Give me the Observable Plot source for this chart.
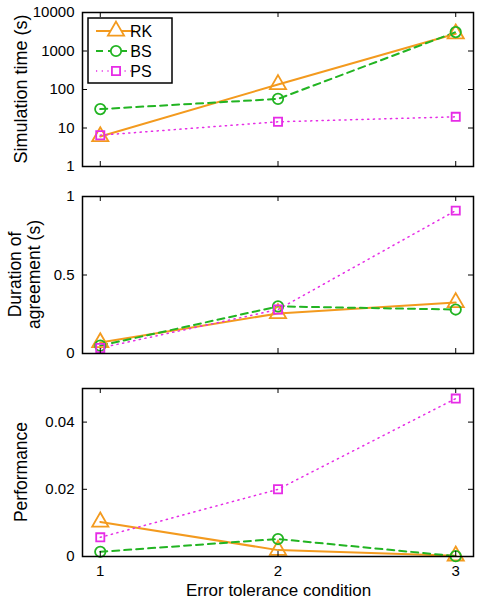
<!DOCTYPE html>
<html><head><meta charset="utf-8">
<script src="https://cdn.jsdelivr.net/npm/d3@7"></script>
<script src="https://cdn.jsdelivr.net/npm/@observablehq/plot@0.6"></script>
<style>
body{margin:0;background:#fff;}
#c{width:478px;}
#c svg{display:block;}
</style></head>
<body><div id="c"></div>
<script>
const conditions = [1, 2, 3];
const series = ["RK", "BS", "PS"];
const simTime = { RK: [6, 135, 2800], BS: [31, 57, 3100], PS: [6.5, 14.5, 19.5] };
const duration = { RK: [0.07, 0.255, 0.325], BS: [0.05, 0.30, 0.28], PS: [0.035, 0.28, 0.91] };
const performance = { RK: [0.0103, 0.0019, 0.0002], BS: [0.0014, 0.0052, 0.0001], PS: [0.0057, 0.0200, 0.0470] };
const colors = { RK: "#F39A1E", BS: "#22B422", PS: "#E62CE6" };
const dashes = { RK: null, BS: "7,5", PS: "1.2,4.5" };
const widths = { RK: 2, BS: 2, PS: 1.5 };
const symbols = { RK: "triangle", BS: "circle", PS: "square" };
const sizes = { RK: 6, BS: 5.2, PS: 4.6 };

const W = 478, ML = 82, MR = 5;
const FW = W - ML - MR;
const font = "'Liberation Sans', Arial, Helvetica, sans-serif";

function rows(obj) {
  const out = [];
  for (const s of series) conditions.forEach((c, i) => out.push({ s, x: c, y: obj[s][i] }));
  return out;
}

function panel({ data, yOpts, yTicks, yTickFmt, height, mt, mb, label, labelSize, xLabels }) {
  const FH = height - mt - mb;
  const marks = [];
  for (const s of series) {
    const d = data.filter(r => r.s === s);
    marks.push(Plot.line(d, { x: "x", y: "y", stroke: colors[s], strokeWidth: widths[s], strokeDasharray: dashes[s] }));
  }
  for (const s of series) {
    const d = data.filter(r => r.s === s);
    marks.push(Plot.dot(d, { x: "x", y: "y", stroke: colors[s], fill: "none", strokeWidth: 1.8, symbol: symbols[s], r: sizes[s] }));
  }
  marks.push(
    Plot.tickY(yTicks, { y: d => d, insetRight: FW - 5, stroke: "black", strokeWidth: 1 }),
    Plot.tickY(yTicks, { y: d => d, insetLeft: FW - 5, stroke: "black", strokeWidth: 1 }),
    Plot.tickX(conditions, { x: d => d, insetBottom: FH - 5, stroke: "black", strokeWidth: 1 }),
    Plot.tickX(conditions, { x: d => d, insetTop: FH - 5, stroke: "black", strokeWidth: 1 }),
    Plot.axisY(yTicks, { tickSize: 0, tickPadding: 8, tickFormat: yTickFmt, fontSize: 15, label: null }),
    Plot.frame({ stroke: "black", strokeWidth: 1.5 })
  );
  if (xLabels) marks.push(Plot.axisX(conditions, { tickSize: 0, tickPadding: 9, tickFormat: d => String(d), fontSize: 15, label: null }));
  const p = Plot.plot({
    width: W, height, marginLeft: ML, marginRight: MR, marginTop: mt, marginBottom: mb,
    style: { fontFamily: font, fontSize: "15px", color: "black", background: "white", overflow: "visible" },
    x: xLabels ? { domain: [0.9, 3.1], label: null } : { domain: [0.9, 3.1], axis: null },
    y: { ...yOpts, label: null },
    marks
  });
  const svg = d3.select(p);
  const cy = mt + FH / 2;
  const lines = Array.isArray(label) ? label : [label];
  const x0 = lines.length === 1 ? 21 : 15;
  lines.forEach((t, i) => {
    svg.append("text").attr("transform", `translate(${x0 + i * 19},${cy}) rotate(-90)`)
      .attr("text-anchor", "middle").attr("dy", "0.35em").attr("font-size", labelSize).attr("font-family", font).text(t);
  });
  return p;
}

const c = document.getElementById("c");
const p1 = panel({
  data: rows(simTime), yOpts: { type: "log", domain: [1, 10000] },
  yTicks: [1, 10, 100, 1000, 10000], yTickFmt: d => String(d),
  height: 180, mt: 12, mb: 14, label: "Simulation time (s)", labelSize: 18
});
c.appendChild(p1);
const p2 = panel({
  data: rows(duration), yOpts: { domain: [0, 1] },
  yTicks: [0, 0.5, 1], yTickFmt: d => String(d),
  height: 190, mt: 16, mb: 17, label: ["Duration of", "agreement (s)"], labelSize: 17.5
});
c.appendChild(p2);
const p3 = panel({
  data: rows(performance), yOpts: { domain: [0, 0.05] },
  yTicks: [0, 0.02, 0.04], yTickFmt: d => String(d),
  height: 232, mt: 18, mb: 46, label: "Performance", labelSize: 17.5, xLabels: true
});
c.appendChild(p3);
d3.select(p3).append("text").attr("x", ML + FW / 2 + 1).attr("y", 226).attr("text-anchor", "middle")
  .attr("font-size", 17).attr("font-family", font).text("Error tolerance condition");

// legend on first panel
const s1 = d3.select(p1);
const lg = s1.append("g");
lg.append("rect").attr("x", 88).attr("y", 18).attr("width", 84).attr("height", 65)
  .attr("fill", "white").attr("stroke", "black").attr("stroke-width", 1.5);
const sym = { triangle: d3.symbolTriangle, circle: d3.symbolCircle, square: d3.symbolSquare };
series.forEach((s, i) => {
  const y = 31 + i * 20;
  lg.append("line").attr("x1", 96).attr("x2", 135).attr("y1", y).attr("y2", y)
    .attr("stroke", colors[s]).attr("stroke-width", widths[s]).attr("stroke-dasharray", dashes[s]);
  const r = sizes[s];
  lg.append("path").attr("transform", `translate(116,${y})`)
    .attr("d", d3.symbol(sym[symbols[s]], Math.PI * r * r)())
    .attr("fill", "white").attr("stroke", colors[s]).attr("stroke-width", 1.8);
  lg.append("text").attr("x", 141).attr("y", y).attr("dy", "0.35em").attr("font-size", 16)
    .attr("font-family", font).text(s);
});
</script></body></html>
